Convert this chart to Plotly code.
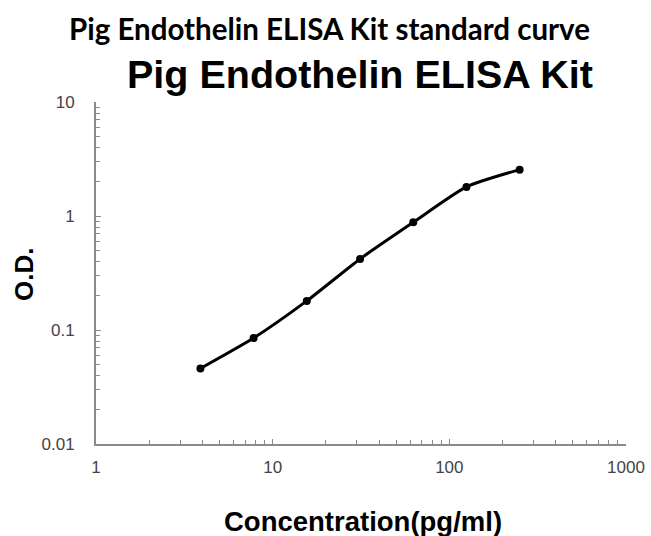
import plotly.graph_objects as go

# Data
concentration = [3.9, 7.8, 15.6, 31.25, 62.5, 125, 250]
od_values = [0.046, 0.085, 0.18, 0.42, 0.88, 1.8, 2.55]
x_tick_vals = [1, 10, 100, 1000]
x_tick_text = ["1", "10", "100", "1000"]
y_tick_vals = [0.01, 0.1, 1, 10]
y_tick_text = ["0.01", "0.1", "1", "10"]

fig = go.Figure()
fig.add_trace(go.Scatter(
    x=concentration, y=od_values, mode="lines+markers",
    line=dict(color="black", width=3, shape="spline", smoothing=0.6),
    marker=dict(color="black", size=8),
    showlegend=False,
))

axis_common = dict(
    type="log", showgrid=False, zeroline=False, automargin=False,
    showline=True, linecolor="#8a8a8a", linewidth=2,
    ticks="inside", ticklen=5, tickcolor="#8a8a8a", tickwidth=1,
    tickfont=dict(family="Liberation Sans, Arial", size=17, color="#444444"),
    minor=dict(ticks="inside", ticklen=4, tickcolor="#8a8a8a", tickwidth=1, dtick="D1", showgrid=False),
)

fig.update_xaxes(range=[0, 3], tickvals=x_tick_vals, ticktext=x_tick_text,
                 ticklabelstandoff=7, **axis_common)
fig.update_yaxes(range=[-2, 1], tickvals=y_tick_vals, ticktext=y_tick_text,
                 ticklabelstandoff=16, **axis_common)

# page coordinates (px) -> paper coordinates
def px(X):
    return (X - 96) / 530

def py(Y):
    return (444 - Y) / 342

ann = [
    dict(text="<b>Pig Endothelin ELISA Kit standard curve</b>", xref="paper", yref="paper",
         x=px(329), y=py(29), xanchor="center", yanchor="middle", showarrow=False,
         font=dict(family="Lato, Open Sans", size=29.5, color="black")),
    dict(text="<b>Pig Endothelin ELISA Kit</b>", xref="paper", yref="paper",
         x=px(360), y=py(74), xanchor="center", yanchor="middle", showarrow=False,
         font=dict(family="Liberation Sans, Arial", size=39.5, color="black")),
    dict(text="<b>O.D.</b>", xref="paper", yref="paper",
         x=px(24), y=py(275), textangle=-90,
         xanchor="center", yanchor="middle", showarrow=False,
         font=dict(family="Liberation Sans, Arial", size=26, color="black")),
    dict(text="<b>Concentration(pg/ml)</b>", xref="paper", yref="paper",
         x=px(363), y=py(521), xanchor="center", yanchor="middle", showarrow=False,
         font=dict(family="Liberation Sans, Arial", size=27.5, color="black")),
]

fig.update_layout(
    width=651, height=536,
    margin=dict(l=96, r=25, t=102, b=92, autoexpand=False),
    plot_bgcolor="white", paper_bgcolor="white",
    annotations=ann,
)

fig.write_html("out.html", config={"displayModeBar": False},
               post_script="document.body.style.margin='0';document.body.style.overflow='hidden';")
